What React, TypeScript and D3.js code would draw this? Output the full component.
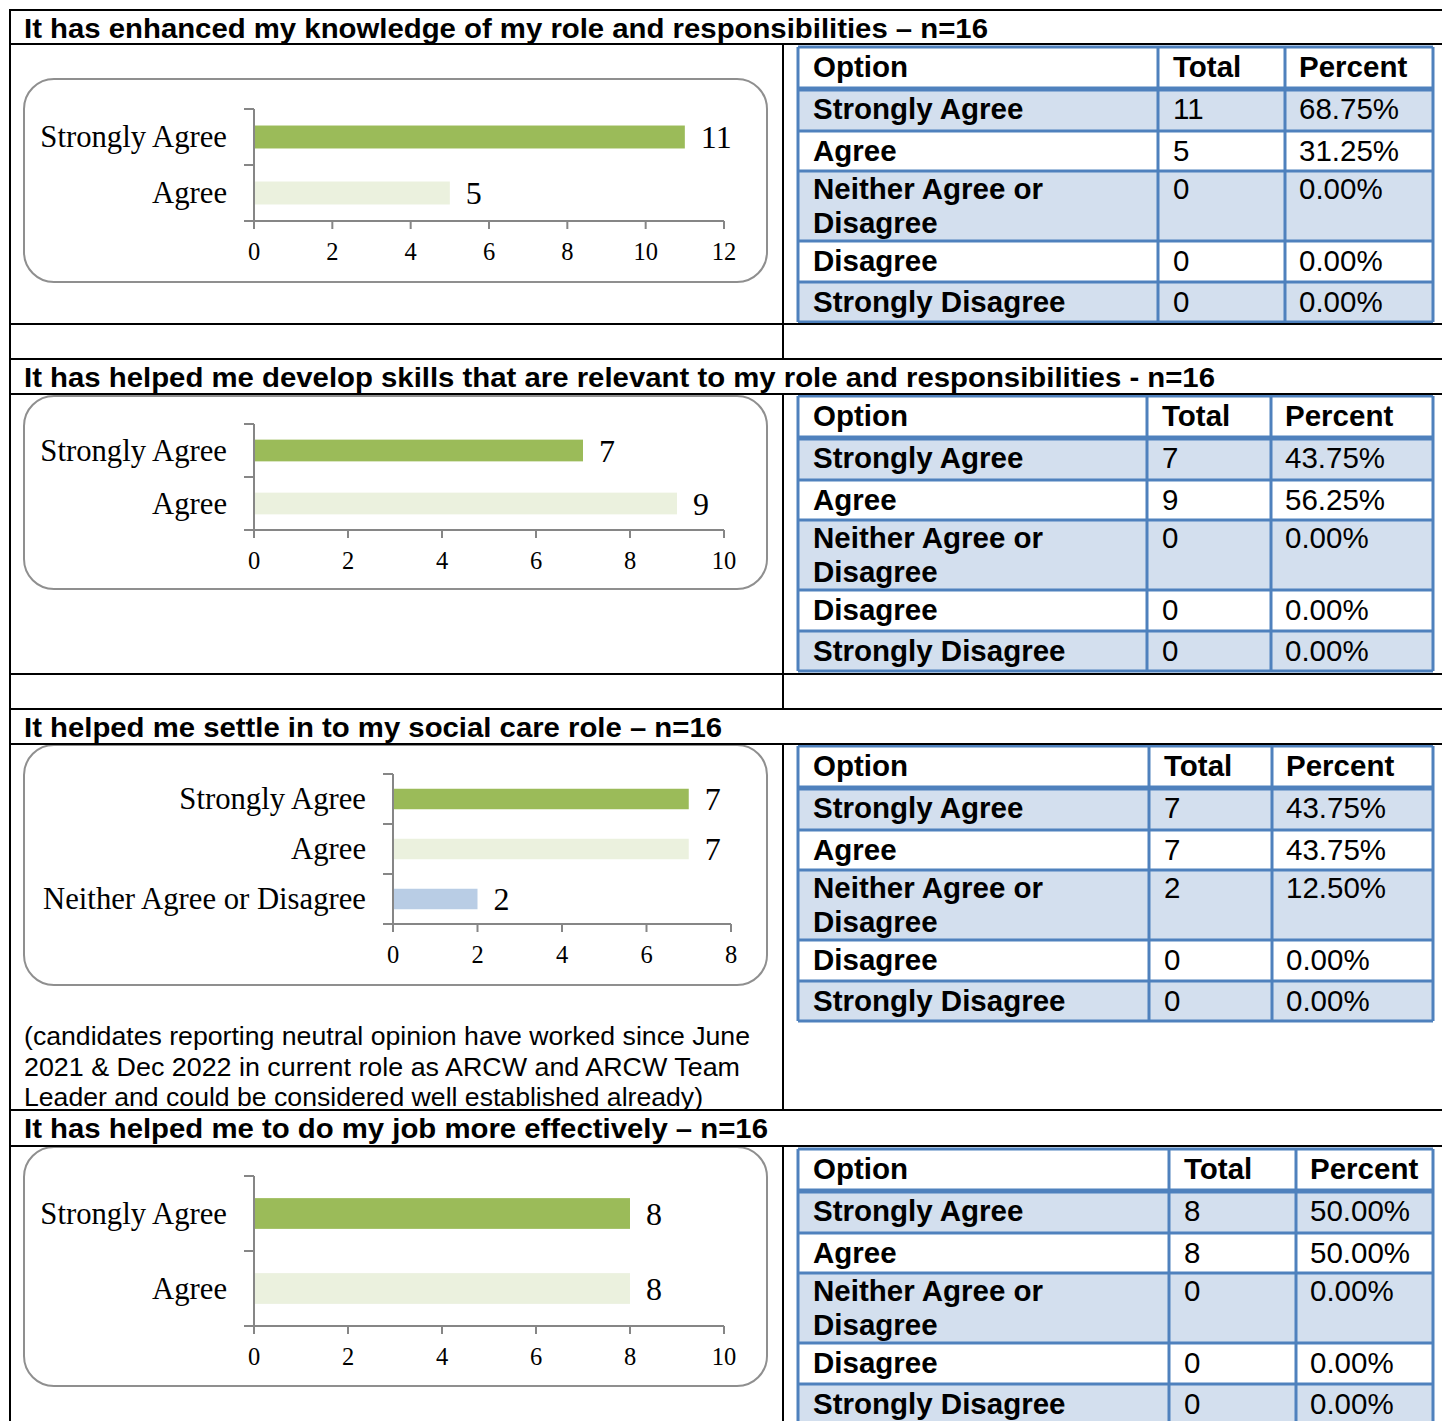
import React from "react";
import * as d3 from "d3";

// survey answers
const options = ["Strongly Agree", "Agree", "Neither Agree or Disagree", "Disagree", "Strongly Disagree"];
const titles = [
  "It has enhanced my knowledge of my role and responsibilities – n=16",
  "It has helped me develop skills that are relevant to my role and responsibilities - n=16",
  "It helped me settle in to my social care role – n=16",
  "It has helped me to do my job more effectively – n=16",
];
const totals1 = [11, 5, 0, 0, 0];
const totals2 = [7, 9, 0, 0, 0];
const totals3 = [7, 7, 2, 0, 0];
const totals4 = [8, 8, 0, 0, 0];
const percents1 = ["68.75%", "31.25%", "0.00%", "0.00%", "0.00%"];
const percents2 = ["43.75%", "56.25%", "0.00%", "0.00%", "0.00%"];
const percents3 = ["43.75%", "43.75%", "12.50%", "0.00%", "0.00%"];
const percents4 = ["50.00%", "50.00%", "0.00%", "0.00%", "0.00%"];
const axisMax = [12, 10, 8, 10];
const noteLines = [
  "(candidates reporting neutral opinion have worked since June",
  "2021 & Dec 2022 in current role as ARCW and ARCW Team",
  "Leader and could be considered well established already)",
];

const allTotals = [totals1, totals2, totals3, totals4];
const allPercents = [percents1, percents2, percents3, percents4];

// layout, per panel
const panels = [
  { titleTop: 10, secTop: 44, secBottom: 324, spacer: 359, titleLen: 964, box: [79, 203], plot: [254, 724, 109, 221], tableTop: 47, cols: [798, 1158, 1285, 1433] },
  { titleTop: 359, secTop: 394, secBottom: 674, spacer: 709, titleLen: 1191, box: [396, 193], plot: [254, 724, 424, 530], tableTop: 396, cols: [798, 1147, 1271, 1433] },
  { titleTop: 709, secTop: 744, secBottom: 1110, spacer: null, titleLen: 698, box: [745, 240], plot: [393, 731, 774, 924], tableTop: 746, cols: [798, 1149, 1272, 1433] },
  { titleTop: 1110, secTop: 1146, secBottom: 1421, spacer: null, titleLen: 744, box: [1147, 239], plot: [254, 724, 1176, 1326], tableTop: 1149, cols: [798, 1169, 1296, 1433] },
];

const W = 1442;
const H = 1421;
const sans = "'Liberation Sans', Arial, sans-serif";
const serif = "'Liberation Serif', 'Times New Roman', serif";
const barColor: Record<string, string> = {
  "Strongly Agree": "#9bbb59",
  Agree: "#ebf1de",
  "Neither Agree or Disagree": "#b9cde5",
};
const axisGray = "#868686";
const tblBlue = "#4f81bd";
const tblFill = "#d3dfee";
const rowHeights = [42, 42, 40, 70, 41, 40];

function Chart({ idx }: { idx: number }) {
  const p = panels[idx];
  const [x0, x1, yTop, yBottom] = p.plot;
  const cats = options.filter((_, i) => allTotals[idx][i] > 0);
  const vals = allTotals[idx].filter((v) => v > 0);
  const x = d3.scaleLinear().domain([0, axisMax[idx]]).range([x0, x1]);
  const y = d3.scaleBand<string>().domain(cats).range([yTop, yBottom]).padding(0);
  const bw = y.bandwidth() * 0.41;
  const ticks = d3.range(0, axisMax[idx] + 1, 2);
  const bounds = d3.range(cats.length + 1).map((i) => yTop + i * y.step());
  return (
    <g>
      <rect x={24} y={p.box[0]} width={743} height={p.box[1]} rx={30} ry={30} fill="#fff" stroke="#8f8f8f" strokeWidth={2} />
      {cats.map((c, i) => (
        <g key={c}>
          <rect x={x(0)} y={(y(c) as number) + (y.bandwidth() - bw) / 2} width={x(vals[i]) - x(0)} height={bw} fill={barColor[c]} />
          <text x={x0 - 27} y={(y(c) as number) + y.bandwidth() / 2} textAnchor="end" dominantBaseline="central" fontFamily={serif} fontSize={30.7}>
            {c}
          </text>
          <text x={x(vals[i]) + 16} y={(y(c) as number) + y.bandwidth() / 2} dominantBaseline="central" fontFamily={serif} fontSize={32}>
            {vals[i]}
          </text>
        </g>
      ))}
      <line x1={x0} x2={x0} y1={yTop} y2={yBottom} stroke={axisGray} strokeWidth={2} />
      {bounds.map((b, i) => (
        <line key={i} x1={x0 - 10} x2={x0} y1={b} y2={b} stroke={axisGray} strokeWidth={2} />
      ))}
      <line x1={x0 - 10} x2={x1} y1={yBottom} y2={yBottom} stroke={axisGray} strokeWidth={2} />
      {ticks.map((t) => (
        <g key={t}>
          <line x1={x(t)} x2={x(t)} y1={yBottom} y2={yBottom + 8} stroke={axisGray} strokeWidth={2} />
          <text x={x(t)} y={yBottom + 30} textAnchor="middle" dominantBaseline="central" fontFamily={serif} fontSize={24.5}>
            {t}
          </text>
        </g>
      ))}
    </g>
  );
}

function Table({ idx }: { idx: number }) {
  const p = panels[idx];
  const [c0, c1, c2, c3] = p.cols;
  const tops = rowHeights.reduce<number[]>((acc, h) => [...acc, acc[acc.length - 1] + h], [p.tableTop]);
  const rows = ["header", ...options];
  return (
    <g fontFamily={sans} fontSize={29.5}>
      {rows.map((r, i) => (
        <rect key={"f" + i} x={c0} y={tops[i]} width={c3 - c0} height={tops[i + 1] - tops[i]} fill={i % 2 === 1 ? tblFill : "#fff"} />
      ))}
      {tops.map((t, i) => (
        <line key={"h" + i} x1={c0} x2={c3} y1={t} y2={t} stroke={tblBlue} strokeWidth={i === 1 ? 5 : 3} />
      ))}
      {[c0, c1, c2, c3].map((c, i) => (
        <line key={"v" + i} x1={c} x2={c} y1={tops[0]} y2={tops[tops.length - 1]} stroke={tblBlue} strokeWidth={3} />
      ))}
      <text x={c0 + 15} y={tops[0] + 30} fontWeight="bold">Option</text>
      <text x={c1 + 15} y={tops[0] + 30} fontWeight="bold">Total</text>
      <text x={c2 + 14} y={tops[0] + 30} fontWeight="bold">Percent</text>
      {options.map((o, i) => {
        const top = tops[i + 1];
        const base = i === 2 ? top + 28 : top + 30;
        return (
          <g key={o}>
            {i === 2 ? (
              <text x={c0 + 15} y={base} fontWeight="bold">
                <tspan x={c0 + 15}>Neither Agree or</tspan>
                <tspan x={c0 + 15} dy={34}>Disagree</tspan>
              </text>
            ) : (
              <text x={c0 + 15} y={base} fontWeight="bold">{o}</text>
            )}
            <text x={c1 + 15} y={base}>{allTotals[idx][i]}</text>
            <text x={c2 + 14} y={base}>{allPercents[idx][i]}</text>
          </g>
        );
      })}
    </g>
  );
}

export default function App() {
  const hLines: number[] = [];
  panels.forEach((p) => {
    hLines.push(p.titleTop, p.secTop);
    if (p.spacer) hLines.push(p.secBottom);
  });
  const mid = 783;
  return (
    <svg width={W} height={H} style={{ position: "absolute", left: 0, top: 0, background: "#fff" }}>
      <rect width={W} height={H} fill="#fff" />
      {panels.map((p, i) => (
        <g key={i}>
          <Chart idx={i} />
          <Table idx={i} />
          <text x={24} y={p.titleTop + 28} fontFamily={sans} fontWeight="bold" fontSize={28} textLength={p.titleLen} lengthAdjust="spacingAndGlyphs">
            {titles[i]}
          </text>
          <line x1={mid} x2={mid} y1={p.secTop} y2={p.spacer ?? p.secBottom} stroke="#000" strokeWidth={2} />
        </g>
      ))}
      {hLines.map((y, i) => (
        <line key={i} x1={10} x2={W} y1={y} y2={y} stroke="#000" strokeWidth={2} />
      ))}
      <line x1={10} x2={10} y1={9} y2={H} stroke="#000" strokeWidth={2} />
      <g fontFamily={sans} fontSize={25}>
        {noteLines.map((l, i) => (
          <text key={i} x={24} y={1045 + i * 30.5} textLength={[726, 716, 679][i]} lengthAdjust="spacingAndGlyphs">
            {l}
          </text>
        ))}
      </g>
    </svg>
  );
}
